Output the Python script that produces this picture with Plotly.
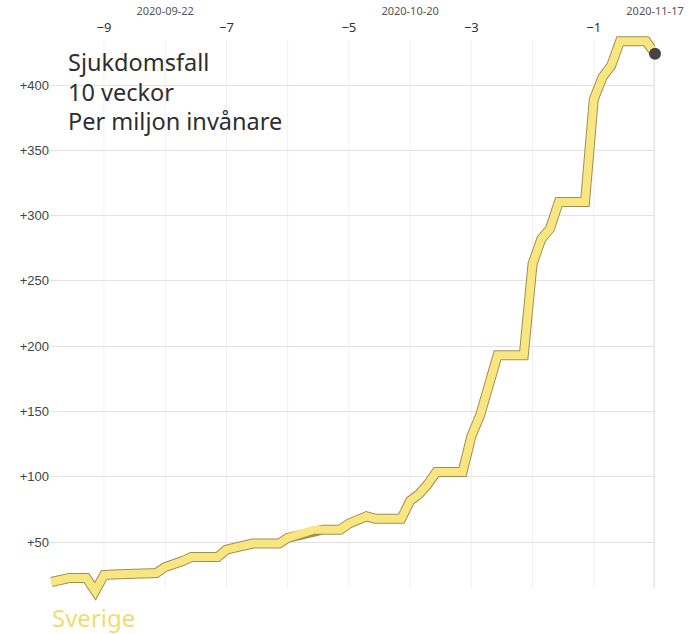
import pandas as pd
import plotly.graph_objects as go

# ---- data ----
start_date = "2020-09-09"
end_date = "2020-11-17"
cases_per_million = [
    19.4, 21.2, 22.4, 22.4, 22.4, 12.4, 24.7,
    25.2, 25.5, 25.8, 25.8, 25.8, 26.3, 30.9,
    32.7, 35.5, 38.5, 38.5, 38.5, 38.5, 44.2,
    45.7, 48.3, 48.8, 48.8, 48.8, 48.8, 53.1,
    54.8, 56.4, 59.5, 59.5, 59.5, 59.5, 64.1,
    66.3, 69.7, 67.9, 67.9, 67.9, 67.9, 81.5,
    86.5, 94.2, 103.6, 103.6, 103.6, 103.6, 131.0,
    147.0, 170.0, 193.0, 193.0, 193.0, 193.0, 263.0,
    282.0, 290.0, 310.4, 310.4, 310.4, 310.4, 389.0,
    406.0, 415.0, 433.5, 433.5, 433.5, 433.5, 424.0,
]
week_offsets = [-9, -8, -7, -6, -5, -4, -3, -2, -1, 0]
week_tick_offsets = [-9, -7, -5, -3, -1]
week_tick_labels = ["\u22129", "\u22127", "\u22125", "\u22123", "\u22121"]
date_tick_labels = ["2020-09-22", "2020-10-20", "2020-11-17"]
y_tick_vals = [50, 100, 150, 200, 250, 300, 350, 400]
y_tick_labels = ["+50", "+100", "+150", "+200", "+250", "+300", "+350", "+400"]
title_lines = ["Sjukdomsfall", "10 veckor", "Per miljon invånare"]
country = "Sverige"

dates = pd.date_range(start_date, end_date, freq="D")
end = pd.Timestamp(end_date)
week_dates = [end + pd.Timedelta(weeks=w) for w in week_offsets]
week_tick_dates = [end + pd.Timedelta(weeks=w) for w in week_tick_offsets]
date_ticks = [pd.Timestamp(d) for d in date_tick_labels]

x_start = end - pd.Timedelta(days=69.17)
x_range = [x_start, end]

YELLOW = "#fae680"
OUTLINE = "#a09055"
FONT = "Noto Sans"

fig = go.Figure()
fig.add_trace(go.Scatter(x=dates, y=cases_per_million, mode="lines",
                         line=dict(color=OUTLINE, width=10), hoverinfo="skip", showlegend=False))
fig.add_trace(go.Scatter(x=dates, y=cases_per_million, mode="lines",
                         line=dict(color=YELLOW, width=8), hoverinfo="skip", showlegend=False))
fig.add_trace(go.Scatter(x=[dates[-1]], y=[cases_per_million[-1]], mode="markers",
                         marker=dict(color="#444444", size=12), cliponaxis=False,
                         hoverinfo="skip", showlegend=False))
fig.add_trace(go.Scatter(x=[end], y=[None], xaxis="x2", mode="markers",
                         showlegend=False, hoverinfo="skip"))

shapes = []
for w, d in zip(week_offsets, week_dates):
    shapes.append(dict(type="line", xref="x", yref="y", x0=d, x1=d, y0=14.8, y1=434.5,
                       line=dict(color="#e6e6e6" if w == 0 else "#f0f0f0", width=3 if w == 0 else 1),
                       layer="below"))

title_y = [62, 91.5, 120.5]
annotations = []
for line, yp in zip(title_lines, title_y):
    annotations.append(dict(xref="paper", yref="paper", x=(66 - 50) / 605, y=1 - yp / 634,
                            xanchor="left", yanchor="middle", text=line, showarrow=False,
                            font=dict(family=FONT, size=23.5, color="#2e2e2e")))
annotations.append(dict(xref="paper", yref="paper", x=0.0, y=1 - 617 / 634, xanchor="left",
                        yanchor="middle", text=country, showarrow=False,
                        font=dict(family=FONT, size=24, color="#f0dc72")))

fig.update_layout(
    width=700, height=634,
    margin=dict(l=50, r=45, t=0, b=0),
    paper_bgcolor="white", plot_bgcolor="white",
    hovermode=False,
    shapes=shapes,
    xaxis=dict(type="date", range=x_range, side="top", anchor="free", position=0.945,
               tickmode="array", tickvals=week_tick_dates, ticktext=week_tick_labels,
               showgrid=False, zeroline=False, showline=False, ticks="",
               tickfont=dict(family=FONT, size=13, color="#333333")),
    xaxis2=dict(type="date", range=x_range, overlaying="x", side="top", anchor="free",
                position=0.973, tickmode="array", tickvals=date_ticks, ticktext=date_tick_labels,
                showgrid=False, zeroline=False, showline=False, ticks="",
                tickfont=dict(family=FONT, size=11, color="#555555")),
    yaxis=dict(range=[4, 440], domain=[0.0503, 0.9483], tickmode="array",
               tickvals=y_tick_vals, ticktext=y_tick_labels, showgrid=True,
               gridcolor="#e2e2e2", gridwidth=1, zeroline=False, showline=False, ticks="",
               tickfont=dict(family="Liberation Sans", size=13, color="#444444")),
    annotations=annotations,
)

fig.write_html("out.html")
